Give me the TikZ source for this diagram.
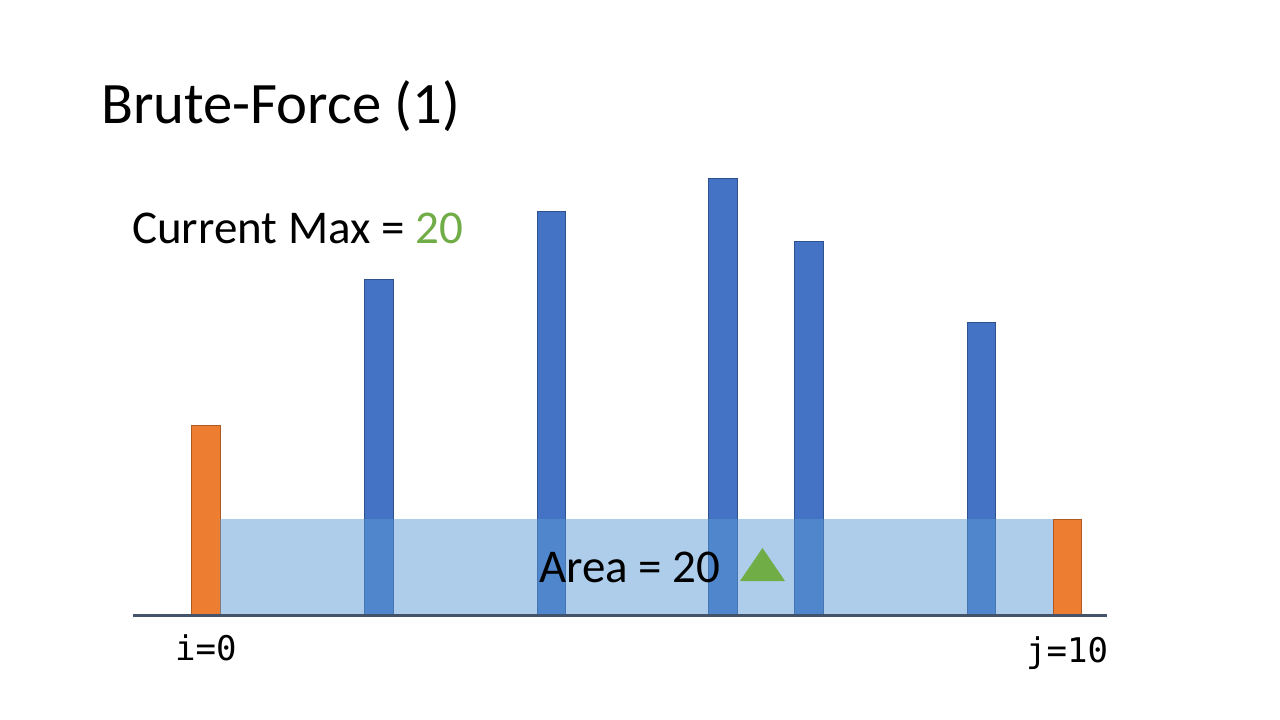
\documentclass[tikz,border=0pt]{standalone}
\usepackage{fontspec}
\setmainfont{Carlito}
\setmonofont{DejaVu Sans Mono}
\usepackage{xcolor}
\usepackage{tikz}
\usetikzlibrary{positioning}

\definecolor{barblue}{HTML}{4472C4}
\definecolor{barblueline}{HTML}{2F528F}
\definecolor{barorange}{HTML}{ED7D31}
\definecolor{barorangeline}{HTML}{AE5A21}
\definecolor{areablue}{HTML}{5B9BD5}
\definecolor{axisgray}{HTML}{44546A}
\definecolor{maxgreen}{HTML}{70AD47}

\tikzset{
  bluebar/.style={draw=barblueline, line width=0.8pt, fill=barblue},
  orangebar/.style={draw=barorangeline, line width=0.8pt, fill=barorange},
  label/.style={inner sep=0pt, anchor=base west}
}

\begin{document}
\begin{tikzpicture}[x=1pt, y=-1pt]
    \useasboundingbox (0,0) rectangle (1280,720);

    % Title
    \node[label, font=\fontsize{58.7}{70}\selectfont] (title) at (101,123) {Brute-Force (1)};
    \node[label, font=\fontsize{47}{56}\selectfont] (curmax) at (132,243) {Current Max = \textcolor{maxgreen}{20}};

    % Bars
    \draw[orangebar] (191,615) rectangle (220,425);
    \draw[bluebar] (364,615) rectangle (393,279);
    \draw[bluebar] (537,615) rectangle (565,211);
    \draw[bluebar] (708,615) rectangle (737,178);
    \draw[bluebar] (794,615) rectangle (823,241);
    \draw[bluebar] (967,615) rectangle (995,322);
    \draw[orangebar] (1053,615) rectangle (1081,519);

    % Area between i and j
    \fill[areablue, opacity=0.5] (220,519) rectangle (1053,615);

    % Axis
    \draw[axisgray, line width=3pt] (133,615) -- (1107,615);

    % Area label
    \node[label, font=\fontsize{47}{56}\selectfont] (area) at (539,582) {Area = 20};
    \fill[maxgreen] (740,581) -- (762.5,548) -- (785,581) -- cycle;

    % Indices
    \node[label, font=\fontsize{34}{40}\selectfont\ttfamily] (ilabel) at (175,660) {i=0};
    \node[label, font=\fontsize{34}{40}\selectfont\ttfamily] (jlabel) at (1026,662) {j=10};
\end{tikzpicture}
\end{document}
